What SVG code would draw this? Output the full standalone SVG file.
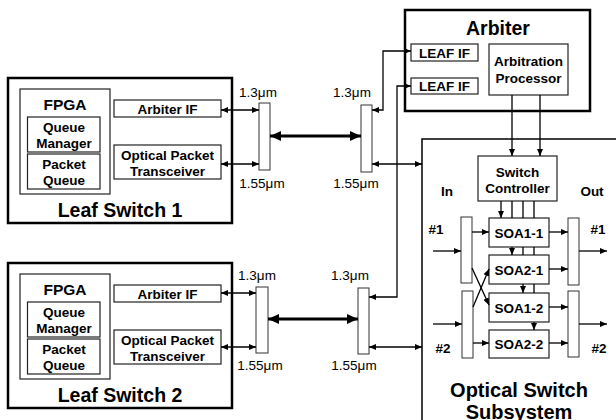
<svg xmlns="http://www.w3.org/2000/svg" width="616" height="420" viewBox="0 0 616 420">
<style>
text{font-family:"Liberation Sans",Arial,sans-serif;fill:#000;text-anchor:middle}
.b{font-weight:bold;font-size:13.5px}
.n{font-size:13.5px}
.big{font-weight:bold;font-size:19.5px}
.fp{font-weight:bold;font-size:15.5px}
.outer{fill:#fff;stroke:#000;stroke-width:2.5}
.sub{fill:#fff;stroke:#000;stroke-width:1.5}
.box{fill:#fff;stroke:#222;stroke-width:1.2}
.cp{fill:#fff;stroke:#333;stroke-width:1}
.ln{fill:none;stroke:#000;stroke-width:1.3}
.d{marker-start:url(#a);marker-end:url(#a)}
.e{marker-end:url(#a)}
.th{fill:none;stroke:#000;stroke-width:3;marker-start:url(#A);marker-end:url(#A)}
</style>
<defs>
<marker id="a" markerUnits="userSpaceOnUse" markerWidth="7" markerHeight="6" refX="7" refY="3" orient="auto-start-reverse"><path d="M0,0L7,3L0,6z" fill="#000"/></marker>
<marker id="A" markerUnits="userSpaceOnUse" markerWidth="11" markerHeight="10" refX="11" refY="5" orient="auto-start-reverse"><path d="M0,0L11,5L0,10z" fill="#000"/></marker>
</defs>
<rect width="616" height="420" fill="#fff"/>

<g id="leaf1">
<rect class="outer" x="8" y="78" width="224" height="145"/>
<rect class="box" x="20" y="89" width="90" height="105"/>
<text class="fp" x="65" y="110">FPGA</text>
<rect class="box" x="27.5" y="117" width="72.5" height="35"/>
<text class="b" x="64" y="132">Queue</text>
<text class="b" x="64" y="148">Manager</text>
<rect class="box" x="27.5" y="154" width="72.5" height="35"/>
<text class="b" x="64" y="169">Packet</text>
<text class="b" x="64" y="185">Queue</text>
<rect class="box" x="114" y="100" width="107" height="17"/>
<text class="b" x="167.5" y="114">Arbiter IF</text>
<rect class="box" x="114" y="145" width="107" height="34"/>
<text class="b" x="167.5" y="160">Optical Packet</text>
<text class="b" x="167.5" y="176">Transceiver</text>
<text class="big" x="120" y="217">Leaf Switch 1</text>
</g>

<g id="leaf2">
<rect class="outer" x="8" y="263" width="224" height="145"/>
<rect class="box" x="20" y="274" width="90" height="105"/>
<text class="fp" x="65" y="295">FPGA</text>
<rect class="box" x="27.5" y="302" width="72.5" height="35"/>
<text class="b" x="64" y="317">Queue</text>
<text class="b" x="64" y="333">Manager</text>
<rect class="box" x="27.5" y="339" width="72.5" height="35"/>
<text class="b" x="64" y="354">Packet</text>
<text class="b" x="64" y="370">Queue</text>
<rect class="box" x="114" y="285" width="107" height="17"/>
<text class="b" x="167.5" y="299">Arbiter IF</text>
<rect class="box" x="114" y="330" width="107" height="34"/>
<text class="b" x="167.5" y="345">Optical Packet</text>
<text class="b" x="167.5" y="361">Transceiver</text>
<text class="big" x="120" y="402">Leaf Switch 2</text>
</g>

<g id="coupler1">
<rect class="cp" x="259" y="103" width="11" height="67"/>
<text class="n" x="258" y="97">1.3μm</text>
<text class="n" x="262" y="188">1.55μm</text>
</g>
<g id="coupler2">
<rect class="cp" x="361" y="105" width="11" height="67"/>
<text class="n" x="352" y="97">1.3μm</text>
<text class="n" x="356" y="188">1.55μm</text>
</g>
<g id="coupler3">
<rect class="cp" x="256" y="287" width="12" height="66"/>
<text class="n" x="257" y="280">1.3μm</text>
<text class="n" x="260" y="370">1.55μm</text>
</g>
<g id="coupler4">
<rect class="cp" x="358" y="288" width="11" height="66"/>
<text class="n" x="350" y="280">1.3μm</text>
<text class="n" x="354" y="370">1.55μm</text>
</g>

<g id="arbiter">
<rect class="outer" x="405" y="10" width="185" height="101"/>
<text class="big" x="498" y="35">Arbiter</text>
<rect class="box" x="411" y="44" width="67" height="17"/>
<text class="b" x="444.5" y="57.5">LEAF IF</text>
<rect class="box" x="411" y="78" width="67" height="16"/>
<text class="b" x="444.5" y="91">LEAF IF</text>
<rect class="box" x="489" y="44" width="79" height="51"/>
<text class="b" x="528.5" y="66">Arbitration</text>
<text class="b" x="528.5" y="83">Processor</text>
</g>

<g id="optical-switch">
<rect class="sub" x="422" y="139" width="260" height="300"/>
<text class="big" x="519" y="397" style="font-size:20px">Optical Switch</text>
<text class="big" x="519" y="419" style="font-size:20px">Subsystem</text>
<text class="b" x="447" y="196">In</text>
<text class="b" x="592" y="196">Out</text>
<text class="b" x="436" y="234">#1</text>
<text class="b" x="598" y="234">#1</text>
<text class="b" x="443" y="353">#2</text>
<text class="b" x="599" y="353">#2</text>
</g>
<g id="switch-controller">
<rect class="box" x="478" y="156" width="79" height="45"/>
<text class="b" x="517.5" y="177">Switch</text>
<text class="b" x="517.5" y="193">Controller</text>
</g>
<g id="in1"><rect class="cp" x="461" y="217" width="11" height="66"/></g>
<g id="in2"><rect class="cp" x="462" y="291" width="11" height="67"/></g>
<g id="out1"><rect class="cp" x="568" y="218" width="11" height="67"/></g>
<g id="out2"><rect class="cp" x="568" y="291" width="11" height="66"/></g>
<g id="soa1-1"><rect class="box" x="489" y="218" width="60" height="29"/><text class="b" x="519" y="238">SOA1-1</text></g>
<g id="soa2-1"><rect class="box" x="489" y="255" width="60" height="29"/><text class="b" x="519" y="275">SOA2-1</text></g>
<g id="soa1-2"><rect class="box" x="489" y="293" width="60" height="29"/><text class="b" x="519" y="313">SOA1-2</text></g>
<g id="soa2-2"><rect class="box" x="489" y="330" width="60" height="28"/><text class="b" x="519" y="349">SOA2-2</text></g>

<g id="connectors">
<path class="ln d" d="M221,110H259"/>
<path class="ln d" d="M221,164H259"/>
<path class="th" d="M270,136H361"/>
<path class="ln d" d="M372,110H383V51H411"/>
<path class="ln d" d="M372,164H422"/>
<path class="ln d" d="M221,293H256"/>
<path class="ln d" d="M221,347H256"/>
<path class="th" d="M268,319H358"/>
<path class="ln d" d="M369,297H397V86H411"/>
<path class="ln d" d="M369,347H422"/>
<path class="ln e" d="M512,95V156"/>
<path class="ln e" d="M540,95V156"/>
<path class="ln e" d="M501,201V218"/>
<path class="ln" d="M512,201V218M523,201V218M534,201V218M523,247V255M534,247V255M534,284V293"/>
<path class="ln e" d="M512,247V255"/>
<path class="ln e" d="M523,284V293"/>
<path class="ln e" d="M534,322V330"/>
<path class="ln e" d="M433,251H461"/>
<path class="ln e" d="M433,324H462"/>
<path class="ln e" d="M472,232H489"/>
<path class="ln e" d="M472,268L489,305"/>
<path class="ln e" d="M473,307L489,269"/>
<path class="ln e" d="M473,343H489"/>
<path class="ln e" d="M549,232H568"/>
<path class="ln e" d="M549,269H568"/>
<path class="ln e" d="M549,307H568"/>
<path class="ln e" d="M549,343H568"/>
<path class="ln e" d="M579,251H607"/>
<path class="ln e" d="M579,324H607"/>
</g>
</svg>
